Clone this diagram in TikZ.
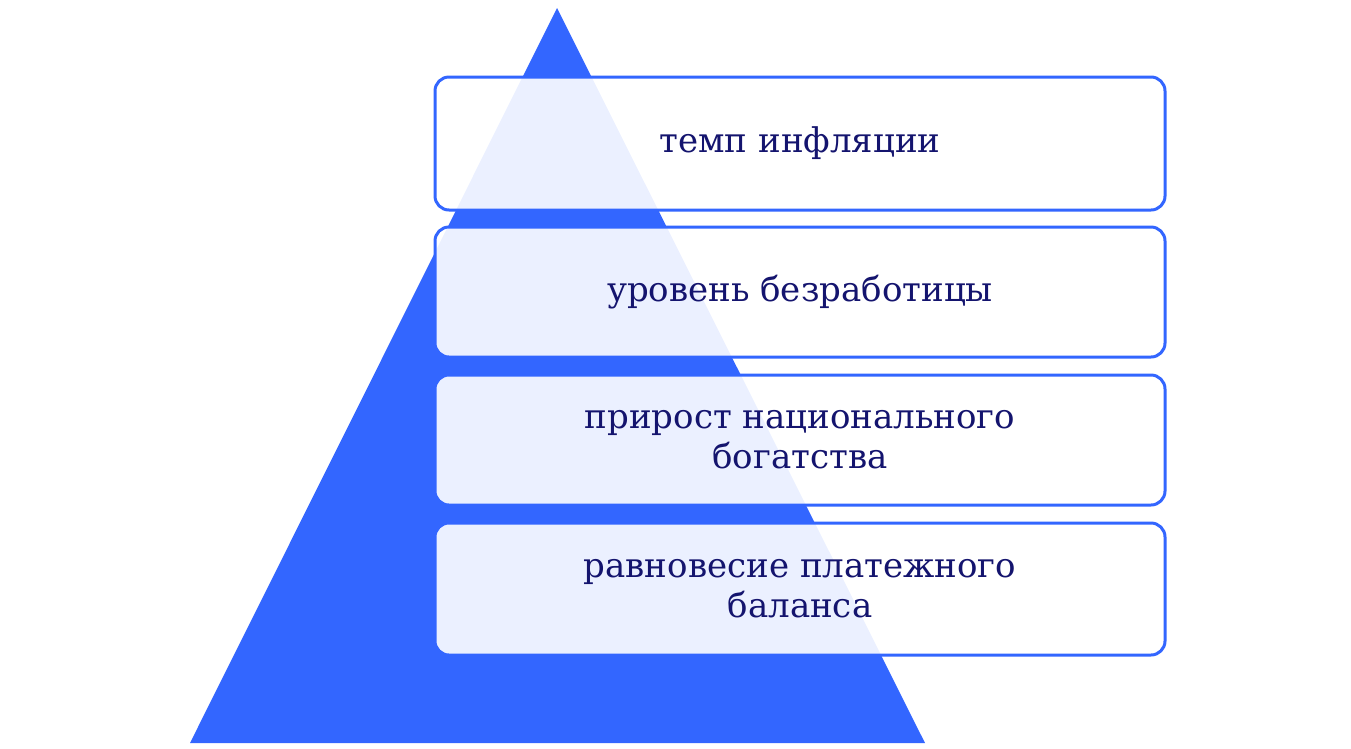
\documentclass[tikz,border=0pt]{standalone}
\usepackage{fontspec}
\setmainfont{DejaVu Serif}
\definecolor{tri}{HTML}{3366FF}
\definecolor{txt}{HTML}{14146E}
\begin{document}
\begin{tikzpicture}[x=1pt,y=-1pt,
  box/.style={draw=tri,line width=3pt,rounded corners=14pt,fill=white,fill opacity=0.9,text opacity=1,
    minimum width=730pt,text=txt,font=\fontsize{34}{40}\selectfont,align=center,inner sep=0pt}]
\useasboundingbox (0,0) rectangle (1351,748);
\fill[tri] (557,8) -- (925,743) -- (190,743) -- cycle;
\node[box,minimum height=133pt] (b1) at (800,143.5) {темп инфляции};
\node[box,minimum height=130pt] (b2) at (800,292) {уровень безработицы};
\node[box,minimum height=130pt] (b3) at (800,440) {прирост национального\\богатства};
\node[box,minimum height=132pt] (b4) at (800,589) {равновесие платежного\\баланса};
\end{tikzpicture}
\end{document}
